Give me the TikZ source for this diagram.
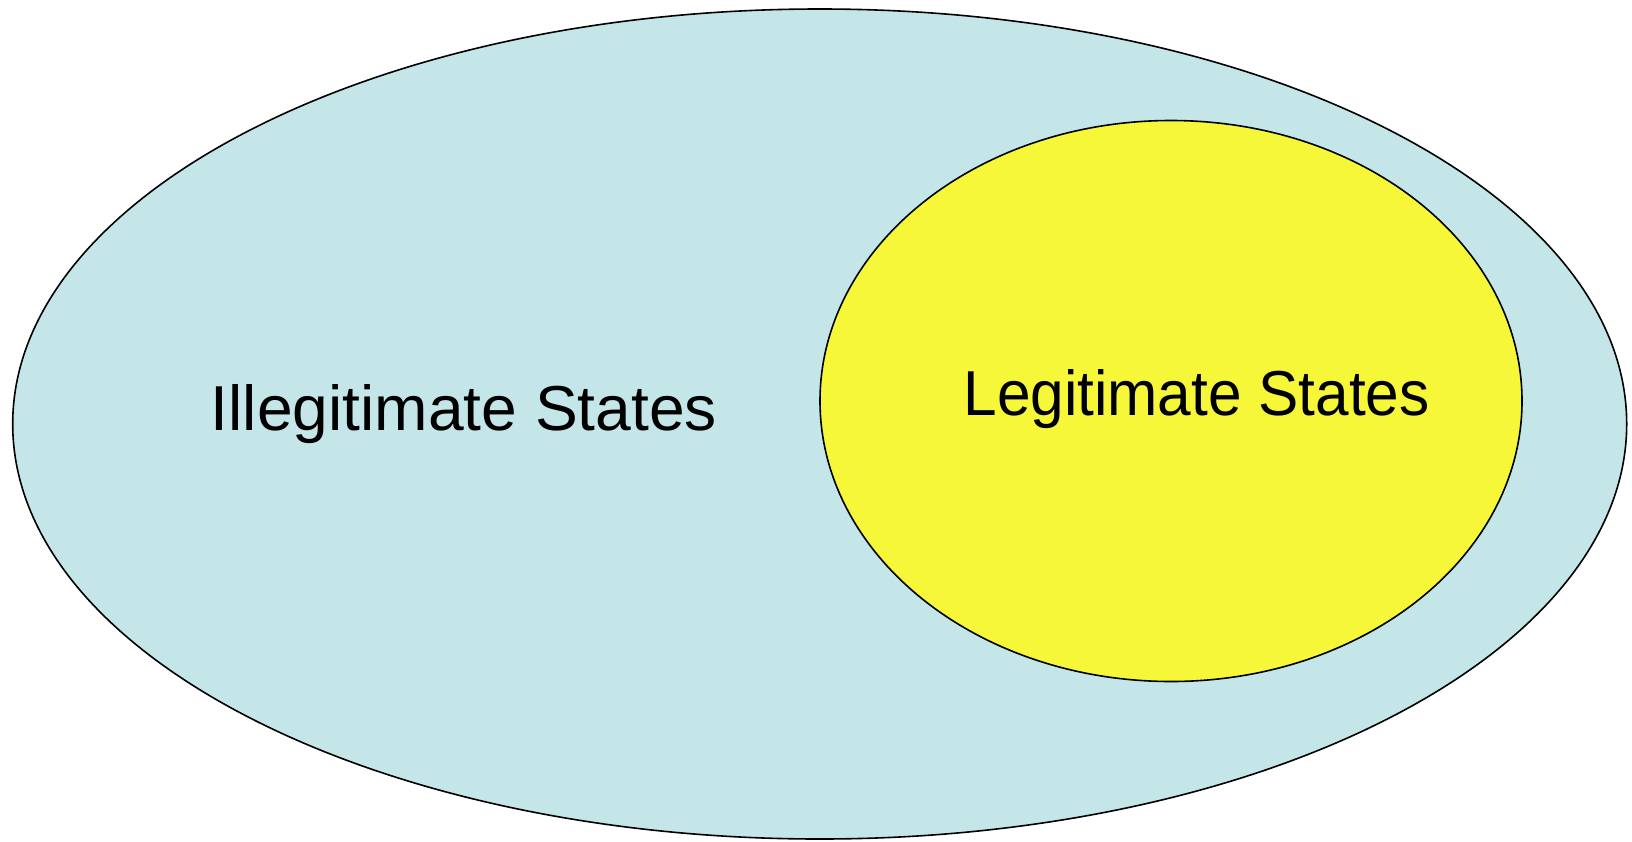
\documentclass[tikz,border=0pt]{standalone}
\usepackage{fontspec}
\setmainfont{Liberation Sans}
\definecolor{outerfill}{RGB}{196,230,232}
\definecolor{innerfill}{RGB}{247,247,58}
\begin{document}
\begin{tikzpicture}[x=1pt,y=-1pt,
  region/.style={draw=black,line width=1.6pt},
  label/.style={anchor=base,inner sep=0pt,font=\fontsize{63.5}{70}\selectfont}]
  \useasboundingbox (0,0) rectangle (1632,841);
  % set of all states
  \path[region,fill=outerfill] (819.7,424) ellipse [x radius=807, y radius=415];
  % subset of legitimate states
  \path[region,fill=innerfill] (1171,401) ellipse [x radius=351, y radius=280.5];
  \node[label] (illegit) at (464,430.7) {\scalebox{1.01}[1]{Illegitimate States}};
  \node[label] (legit) at (1196.5,415) {\scalebox{0.95}[1]{Legitimate States}};
\end{tikzpicture}
\end{document}
